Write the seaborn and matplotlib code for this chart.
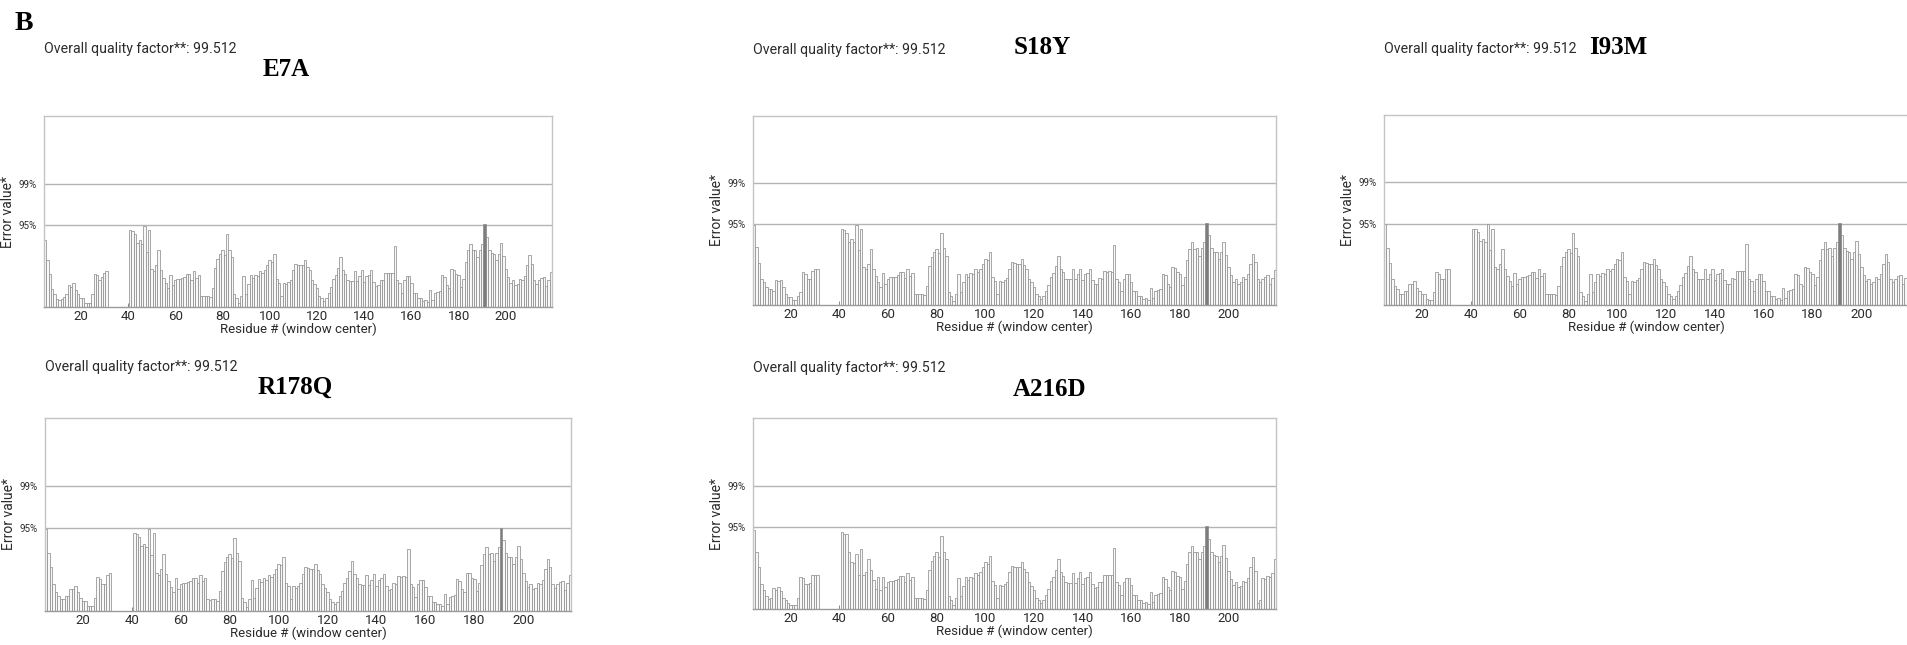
import matplotlib

matplotlib.use("Agg")
import matplotlib.pyplot as plt
import pandas as pd
import seaborn as sns

# ---- data (ERRAT error value per 9-residue window) ----
PANEL_NAMES = ["E7A", "S18Y", "I93M", "R178Q", "A216D"]
QUALITY_FACTOR = "99.512"

# window centres; residues 32-40 have no window
N_RESIDUES = list(range(5, 32))
C_RESIDUES = list(range(41, 220))

E7A_N = [9.4, 6.5, 4.6, 2.5, 1.8, 1.1, 1.0, 1.1, 1.4, 1.8, 3.0, 2.8, 3.3, 2.4,
         1.8, 1.2, 1.2, 0.6, 0.5, 0.5, 1.8, 4.6, 4.4, 3.7, 4.2, 4.8, 5.0]
S18Y_N = [11.2, 8.1, 5.9, 3.6, 3.3, 2.6, 2.2, 2.2, 2.0, 3.5, 3.4, 3.5, 2.5, 1.5,
          1.1, 1.1, 0.7, 0.7, 1.2, 1.8, 4.6, 4.4, 3.7, 3.7, 4.8, 5.0, 5.1]
I93M_N = [11.3, 8.0, 5.9, 3.6, 2.7, 2.2, 1.6, 1.6, 1.9, 1.9, 3.0, 3.0, 3.3, 2.4,
          1.9, 1.5, 1.5, 0.9, 0.7, 0.7, 1.8, 4.6, 4.4, 3.7, 3.7, 5.0, 5.1]
R178Q_N = [11.3, 8.0, 6.0, 3.7, 2.6, 2.1, 1.6, 1.6, 2.0, 2.0, 3.0, 3.0, 3.4, 2.6,
           1.8, 1.4, 1.4, 0.7, 0.7, 0.7, 1.8, 4.7, 4.4, 3.7, 3.7, 5.0, 5.2]
A216D_N = [11.0, 7.9, 5.8, 3.5, 2.6, 1.8, 1.4, 1.6, 2.9, 2.7, 3.0, 2.5, 1.6, 1.3,
           0.8, 0.5, 0.5, 0.5, 1.6, 4.5, 4.3, 3.5, 3.5, 3.6, 4.8, 4.8, 4.8]

# residues 41-219, near identical in all five models
SHARED_C = [
    10.7, 10.6, 10.2, 8.9, 9.3, 8.8, 11.3, 7.7, 10.7, 5.3,
    5.0, 5.8, 7.9, 5.1, 4.1, 3.3, 2.6, 4.5, 3.0, 3.7,
    3.9, 3.9, 4.0, 4.2, 4.6, 4.6, 3.8, 5.0, 4.1, 4.5,
    1.6, 1.5, 1.6, 1.6, 1.4, 2.7, 5.5, 6.7, 7.4, 7.9,
    7.3, 10.1, 8.0, 6.9, 1.8, 1.3, 0.6, 1.6, 4.3, 1.8,
    3.2, 4.4, 4.0, 4.5, 4.3, 5.0, 4.7, 5.1, 5.8, 6.5,
    6.3, 7.4, 3.9, 3.4, 1.6, 3.4, 3.2, 3.5, 3.8, 5.1,
    6.0, 5.9, 5.8, 5.8, 6.5, 5.6, 5.1, 3.7, 3.2, 2.6,
    1.6, 1.3, 0.9, 1.3, 2.0, 2.8, 3.9, 4.5, 5.5, 6.9,
    5.1, 4.6, 3.7, 3.6, 3.6, 5.0, 3.6, 4.3, 5.1, 3.5,
    4.3, 4.5, 5.1, 3.5, 2.9, 3.0, 3.8, 3.7, 4.8, 4.7,
    4.8, 4.7, 8.5, 3.7, 3.3, 1.9, 3.7, 4.3, 4.3, 3.3,
    2.0, 2.0, 1.3, 1.2, 0.9, 1.0, 0.7, 2.4, 1.0, 1.9,
    2.1, 2.2, 4.4, 4.2, 3.0, 2.6, 5.3, 5.2, 4.6, 4.4,
    2.8, 3.9, 6.3, 7.9, 8.8, 7.9, 8.0, 6.9, 8.0, 8.8,
    11.5, 9.8, 8.0, 7.5, 7.4, 6.5, 7.4, 8.9, 7.1, 5.3,
    4.2, 3.3, 3.7, 3.0, 3.2, 3.9, 3.7, 4.3, 5.8, 7.2,
    6.0, 3.7, 3.2, 3.7, 4.0, 4.2, 2.9, 3.8, 4.9,
]
# A216D differs a little in two stretches
A216D_R41_56 = [10.7, 10.4, 10.5, 8.0, 6.6, 6.4, 7.6, 4.7, 8.3, 4.7, 5.1, 6.9,
                5.4, 4.0, 2.8, 4.5]
A216D_R211_219 = [5.3, 0.8, 1.2, 4.3, 4.2, 4.6, 4.4, 5.0, 7.0]

LIMIT_95 = 11.38
LIMIT_99 = 17.19
Y_MAX = 26.6

N_TERM = {"E7A": E7A_N, "S18Y": S18Y_N, "I93M": I93M_N, "R178Q": R178Q_N, "A216D": A216D_N}

# ---- layout in reference pixels: frame x0, x1, top, bottom ----
W, H = 1907, 645
FRAMES = {
    "E7A": (44, 552, 116, 307),
    "S18Y": (753, 1276, 116, 305),
    "I93M": (1384, 1909, 115, 305),
    "R178Q": (45, 571, 418, 611),
    "A216D": (753, 1276, 418, 609),
}
# quality text y, title centre x, title y
TEXT_POS = {
    "E7A": (49, 286, 70),
    "S18Y": (50, 1042, 47),
    "I93M": (49, 1618, 47),
    "R178Q": (367, 295, 387),
    "A216D": (368, 1050, 389),
}

BAR_FACE = "#f8f8f8"
BAR_FLAG = "#7d7d7d"
BAR_EDGE = "#909090"
FRAME_GREY = "#c4c4c4"
LINE_GREY = "#b4b4b4"
TEXT_GREY = "#2b2b2b"


def panel_frame(name: str) -> pd.DataFrame:
    values = N_TERM[name] + SHARED_C
    if name == "A216D":
        values = N_TERM[name] + A216D_R41_56 + SHARED_C[16:170] + A216D_R211_219
    df = pd.DataFrame({"residue": N_RESIDUES + C_RESIDUES, "error": values})
    df["band"] = ["flag" if v > LIMIT_95 else "normal" for v in df["error"]]
    return df


def px_rect(x0, x1, top, bottom):
    return [x0 / W, 1 - bottom / H, (x1 - x0) / W, (bottom - top) / H]


sns.set_theme(style="white")
plt.rcParams["font.family"] = ["Roboto", "DejaVu Sans"]

fig = plt.figure(figsize=(W / 100, H / 100), dpi=100)
fig.patch.set_facecolor("white")

for name in PANEL_NAMES:
    x0, x1, top, bottom = FRAMES[name]
    ax = fig.add_axes(px_rect(x0, x1, top, bottom))
    ax.set_facecolor("white")
    df = panel_frame(name)

    sns.barplot(
        data=df,
        x="residue",
        y="error",
        hue="band",
        hue_order=["normal", "flag"],
        palette=[BAR_FACE, BAR_FLAG],
        native_scale=True,
        dodge=False,
        width=1.0,
        errorbar=None,
        saturation=1,
        edgecolor=BAR_EDGE,
        linewidth=0.55,
        legend=False,
        ax=ax,
    )
    for level in (LIMIT_95, LIMIT_99):
        ax.axhline(level, color=LINE_GREY, linewidth=1.0, zorder=0)

    ax.set_xlim(4.5, 219.5)
    ax.set_ylim(0, Y_MAX)
    ax.set_xticks(range(20, 201, 20))
    ax.set_xticks(range(10, 220, 20), minor=True)
    ax.set_yticks([LIMIT_95, LIMIT_99])
    ax.set_yticklabels(["95%", "99%"])
    ax.tick_params(axis="x", which="both", direction="in", length=3, width=0.6,
                   color="#777777", labelsize=9.5, labelcolor=TEXT_GREY, pad=2,
                   bottom=True)
    ax.tick_params(axis="y", length=0, labelsize=7, labelcolor=TEXT_GREY, pad=5)
    ax.set_xlabel("Residue # (window center)", fontsize=9.5, color=TEXT_GREY, labelpad=0)
    ax.set_ylabel("Error value*", fontsize=10, color=TEXT_GREY, labelpad=3)
    for spine in ax.spines.values():
        spine.set_color(FRAME_GREY)
        spine.set_linewidth(1.0)
    ax.spines["bottom"].set_color("#9a9a9a")

    q_y, t_x, t_y = TEXT_POS[name]
    fig.text(x0 / W, 1 - q_y / H, f"Overall quality factor**: {QUALITY_FACTOR}",
             fontsize=10.2, color=TEXT_GREY, ha="left", va="center")
    fig.text(t_x / W, 1 - t_y / H, name, fontsize=18, fontweight="bold",
             family="Liberation Serif", color="black", ha="center", va="center")

fig.text(15 / W, 1 - 24 / H, "B", fontsize=20, fontweight="bold",
         family="Liberation Serif", color="black", ha="left", va="center")

fig.savefig("out.png", dpi=100, facecolor="white")
